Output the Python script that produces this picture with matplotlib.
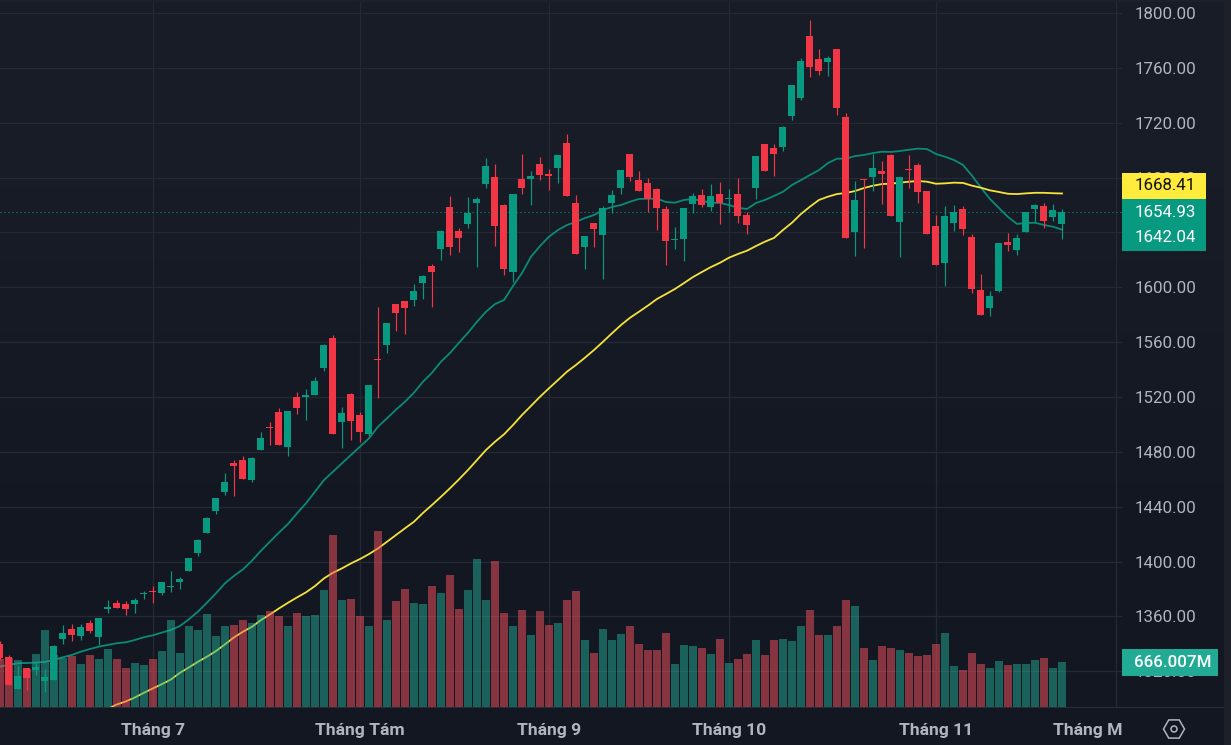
import matplotlib
matplotlib.use("Agg")
import matplotlib.pyplot as plt
import numpy as np
from matplotlib.patches import Rectangle, RegularPolygon, Circle
from matplotlib.transforms import Bbox, IdentityTransform

# daily candles, first visible bar = index 0
opens = [1340.0, 1330.5, 1307.2, 1322.5, 1321.0, 1313.0, 1313.7, 1343.6, 1350.9, 1345.8,
         1355.3, 1345.1, 1365.5, 1369.9, 1369.2, 1369.2, 1376.2, 1378.6, 1377.2, 1381.5,
         1385.2, 1393.2, 1406.3, 1420.9, 1436.9, 1450.8, 1471.9, 1474.1, 1459.5, 1481.4,
         1498.2, 1509.1, 1483.6, 1520.1, 1520.1, 1521.5, 1541.2, 1563.1, 1501.8, 1522.2,
         1506.9, 1493.1, 1547.8, 1558.0, 1587.8, 1590.0, 1590.8, 1603.2, 1615.6, 1628.0,
         1658.6, 1641.1, 1646.2, 1661.5, 1675.3, 1680.4, 1660.0, 1611.2, 1679.0, 1679.0,
         1689.9, 1682.6, 1687.0, 1705.2, 1661.5, 1629.4, 1646.9, 1638.2, 1661.5, 1672.4,
         1697.2, 1678.3, 1676.1, 1671.7, 1657.1, 1634.5, 1635.2, 1660.8, 1667.3, 1658.6,
         1668.1, 1664.4, 1668.1, 1652.7, 1672.4, 1704.5, 1701.6, 1702.3, 1724.9, 1738.0,
         1783.2, 1766.5, 1764.3, 1773.8, 1724.2, 1640.4, 1679.0, 1680.5, 1684.8, 1696.5,
         1647.7, 1686.3, 1689.2, 1670.2, 1644.7, 1617.8, 1646.9, 1657.1, 1636.7, 1598.1,
         1585.0, 1597.4, 1633.1, 1627.2, 1640.4, 1657.1, 1659.3, 1651.3, 1646.2]
highs = [1342.2, 1332.0, 1324.0, 1322.5, 1327.1, 1321.8, 1339.5, 1353.8, 1354.6, 1354.6,
         1357.5, 1358.9, 1372.1, 1372.1, 1371.3, 1373.5, 1378.6, 1382.3, 1385.2, 1393.2,
         1388.8, 1402.7, 1416.5, 1432.6, 1446.4, 1464.7, 1474.1, 1477.0, 1476.3, 1494.5,
         1501.8, 1512.0, 1509.9, 1523.7, 1525.9, 1534.6, 1558.7, 1565.3, 1512.8, 1523.0,
         1509.1, 1528.8, 1585.6, 1574.0, 1587.8, 1590.0, 1602.4, 1609.0, 1617.0, 1641.8,
         1666.6, 1643.3, 1665.9, 1665.9, 1694.3, 1689.9, 1660.8, 1668.1, 1697.2, 1684.8,
         1695.0, 1686.3, 1696.5, 1711.8, 1667.3, 1637.4, 1646.9, 1659.3, 1671.0, 1685.5,
         1697.2, 1684.8, 1679.7, 1672.4, 1659.3, 1644.0, 1657.8, 1668.8, 1671.7, 1675.3,
         1676.8, 1671.7, 1679.7, 1654.9, 1695.8, 1704.5, 1704.5, 1717.6, 1747.5, 1767.2,
         1794.9, 1773.8, 1768.7, 1773.8, 1727.1, 1677.5, 1679.0, 1697.2, 1692.1, 1697.2,
         1680.5, 1696.5, 1690.7, 1670.2, 1652.8, 1659.3, 1660.0, 1659.3, 1638.9, 1609.7,
         1597.4, 1632.3, 1639.6, 1638.9, 1654.9, 1660.8, 1661.5, 1660.8, 1657.1]
lows = [1328.3, 1310.1, 1307.2, 1306.5, 1317.4, 1305.0, 1313.7, 1340.0, 1342.2, 1342.9,
        1348.0, 1339.3, 1362.6, 1366.2, 1361.1, 1362.6, 1372.8, 1369.9, 1375.7, 1377.9,
        1380.1, 1393.2, 1404.1, 1420.9, 1434.8, 1448.6, 1447.9, 1460.3, 1458.1, 1481.4,
        1485.1, 1485.1, 1477.0, 1507.7, 1503.3, 1521.5, 1539.0, 1493.1, 1482.9, 1488.7,
        1487.3, 1491.6, 1519.3, 1552.1, 1568.1, 1566.0, 1586.4, 1591.5, 1585.7, 1620.0,
        1623.6, 1625.8, 1643.3, 1614.8, 1672.4, 1630.1, 1609.0, 1603.9, 1668.1, 1660.0,
        1678.3, 1671.0, 1676.1, 1666.6, 1624.3, 1613.4, 1629.4, 1606.1, 1654.2, 1668.1,
        1677.5, 1670.2, 1654.9, 1641.8, 1616.3, 1628.0, 1619.2, 1654.2, 1658.6, 1655.7,
        1646.2, 1654.9, 1646.9, 1638.9, 1664.4, 1684.8, 1681.2, 1699.4, 1722.0, 1736.6,
        1753.4, 1754.8, 1754.1, 1725.7, 1636.0, 1622.9, 1628.7, 1670.2, 1660.8, 1652.0,
        1622.1, 1672.4, 1661.5, 1638.9, 1616.3, 1601.0, 1641.1, 1638.2, 1595.9, 1579.9,
        1579.1, 1596.6, 1626.5, 1623.6, 1640.4, 1647.7, 1643.3, 1648.4, 1635.3]
closes = [1329.8, 1310.1, 1316.7, 1315.2, 1323.2, 1315.9, 1338.5, 1348.0, 1346.6, 1352.4,
          1349.5, 1358.9, 1367.0, 1366.2, 1365.5, 1372.1, 1376.9, 1377.9, 1385.2, 1382.3,
          1387.4, 1402.7, 1415.8, 1431.8, 1446.4, 1458.1, 1469.8, 1460.3, 1475.6, 1490.2,
          1497.5, 1485.1, 1509.9, 1512.0, 1521.5, 1531.7, 1558.0, 1493.1, 1508.4, 1502.6,
          1494.5, 1528.8, 1547.0, 1574.0, 1581.3, 1584.9, 1597.3, 1608.3, 1611.2, 1641.1,
          1629.4, 1636.0, 1654.2, 1664.4, 1688.5, 1644.7, 1613.4, 1668.1, 1672.4, 1681.2,
          1681.9, 1681.2, 1696.5, 1666.6, 1624.3, 1637.4, 1642.5, 1657.8, 1667.3, 1685.5,
          1680.4, 1670.2, 1664.4, 1657.8, 1633.8, 1635.2, 1657.8, 1666.6, 1660.0, 1666.6,
          1661.5, 1665.1, 1652.0, 1645.5, 1695.8, 1684.8, 1697.2, 1716.9, 1747.5, 1765.0,
          1760.6, 1757.7, 1767.2, 1730.8, 1636.0, 1663.7, 1678.3, 1687.0, 1682.6, 1652.0,
          1680.5, 1685.6, 1669.5, 1638.9, 1616.3, 1652.0, 1654.9, 1642.5, 1598.8, 1579.9,
          1593.7, 1632.3, 1630.9, 1636.0, 1654.9, 1660.0, 1648.4, 1656.4, 1654.93]
# volume in millions
volumes = [725, 735, 696, 572, 799, 1140, 770, 740, 755, 651, 770, 725, 873, 725, 592, 666,
           636, 725, 829, 1288, 814, 1199, 1154, 1391, 1051, 1199, 1228, 1302, 1258, 1376,
           1421, 1347, 1199, 1406, 1347, 1376, 1732, 2560, 1584, 1613, 1347, 1199, 2605, 1288,
           1569, 1761, 1554, 1539, 1805, 1702, 1954, 1465, 1746, 2205, 1598, 2161, 1406, 1199,
           1436, 1080, 1421, 1214, 1258, 1598, 1717, 992, 814, 1169, 992, 1095, 1199, 947,
           858, 858, 1110, 651, 932, 903, 888, 799, 1021, 666, 725, 799, 992, 784, 992, 1021,
           977, 1199, 1450, 1080, 1066, 1199, 1598, 1495, 888, 696, 903, 888, 858, 814, 755,
           770, 947, 1110, 607, 548, 814, 651, 592, 681, 622, 651, 651, 696, 740, 592, 666.007]
ma_short = [1323.5, 1324.7, 1325.9, 1326.1, 1326.4, 1326.9, 1328.3, 1330.3, 1332.0, 1334.4,
            1336.3, 1338.0, 1339.3, 1340.5, 1341.2, 1342.9, 1344.9, 1346.3, 1348.3, 1350.2,
            1353.1, 1358.0, 1363.6, 1370.1, 1376.9, 1384.2, 1389.6, 1394.4, 1400.7, 1408.0,
            1414.6, 1421.2, 1427.5, 1435.2, 1442.5, 1451.0, 1459.5, 1465.6, 1471.7, 1477.8,
            1483.8, 1489.9, 1498.4, 1504.5, 1510.8, 1516.6, 1523.2, 1531.2, 1537.7, 1545.8,
            1552.1, 1559.6, 1566.9, 1574.9, 1582.2, 1587.8, 1590.7, 1601.0, 1610.4, 1622.3,
            1630.1, 1636.9, 1641.8, 1645.4, 1647.8, 1650.5, 1652.7, 1656.4, 1658.6, 1660.0,
            1662.4, 1664.4, 1664.6, 1664.6, 1662.2, 1661.7, 1663.7, 1664.4, 1662.9, 1661.7,
            1661.5, 1660.0, 1658.0, 1657.1, 1661.5, 1663.7, 1666.6, 1669.7, 1674.6, 1678.2,
            1681.9, 1685.5, 1690.6, 1693.8, 1693.8, 1695.7, 1696.5, 1697.9, 1698.9, 1698.7,
            1699.4, 1700.3, 1701.1, 1700.8, 1697.2, 1695.2, 1692.8, 1689.2, 1681.4, 1672.6,
            1664.4, 1657.8, 1651.3, 1646.2, 1646.9, 1647.1, 1645.4, 1644.2, 1642.04]
# long average only comes into view at bar 12
ma_long_start = 12
ma_long = [1292.8, 1295.9, 1298.1, 1301.0, 1304.4, 1307.6, 1310.7, 1314.1, 1319.0, 1322.9,
           1327.0, 1330.7, 1334.8, 1339.7, 1344.8, 1348.9, 1352.5, 1357.4, 1361.5, 1365.9,
           1370.0, 1373.9, 1377.6, 1382.2, 1387.8, 1391.9, 1395.1, 1398.7, 1401.9, 1405.5,
           1409.6, 1414.5, 1419.4, 1424.3, 1429.1, 1435.5, 1441.3, 1447.3, 1453.5, 1460.0,
           1466.8, 1474.1, 1481.4, 1487.4, 1492.8, 1499.6, 1506.9, 1513.5, 1520.2, 1526.4,
           1532.4, 1538.5, 1543.4, 1548.7, 1554.3, 1560.3, 1566.5, 1572.5, 1577.8, 1582.2,
           1586.7, 1591.5, 1595.1, 1598.8, 1603.1, 1607.5, 1611.2, 1614.8, 1617.9, 1621.6,
           1624.3, 1626.7, 1630.1, 1633.3, 1636.0, 1641.8, 1647.1, 1653.5, 1658.8, 1663.7,
           1666.1, 1668.0, 1668.8, 1670.2, 1672.4, 1674.1, 1675.3, 1675.5, 1676.3, 1677.0,
           1677.5, 1677.0, 1675.5, 1675.8, 1676.3, 1676.1, 1674.1, 1672.6, 1670.7, 1669.5,
           1668.2, 1668.0, 1668.5, 1668.9, 1668.9, 1668.6, 1668.41]
month_pos = [17, 40, 61, 81, 104, 124]
month_names = ["Tháng 7", "Tháng Tám", "Tháng 9", "Tháng 10", "Tháng 11", "Tháng Mười Hai"]
price_ticks = np.arange(1320, 1801, 40)

UP = "#089981"
DOWN = "#f23645"
GRID = "#252933"
TXT = "#b2b5be"
FONT = "Roboto"
W, H = 1231, 745
PLOT_W, PLOT_BOTTOM = 1122, 707.5
BAR_PX = 9.0

plt.rcParams["font.family"] = FONT
fig = plt.figure(figsize=(W / 100, H / 100), dpi=100, facecolor="#131722")


def pane(zorder):
    a = fig.add_axes([0, (H - PLOT_BOTTOM) / H, PLOT_W / W, PLOT_BOTTOM / H], zorder=zorder)
    a.set_xlim(0, PLOT_W / BAR_PX)
    a.patch.set_alpha(0)
    for s in a.spines.values():
        s.set_visible(False)
    return a


# slight vertical gradient behind everything
bg = fig.add_axes([0, 0, 1, 1], zorder=-1)
bg.imshow(np.array([[24, 28, 39], [19, 23, 34]], dtype=np.uint8)[:, None, :],
          aspect="auto", interpolation="bilinear")
bg.axis("off")

ax = pane(1)   # grid and averages, sit under the volume
ax_vol = pane(2)
ax_c = pane(3)  # candles

x = np.arange(len(closes))
o, h, l, c = map(np.array, (opens, highs, lows, closes))
up = c >= o
colors = np.where(up, UP, DOWN)
vol_colors = np.where(up, "#22ab94", "#f7525f")

# 0.7291 price units per pixel
ylim = (1800 - (PLOT_BOTTOM - 13) * 0.7291, 1800 + 13 * 0.7291)
ax.set_ylim(*ylim)
ax_c.set_ylim(*ylim)
# 1640.00 sits fully behind the value tags, so it is not written
ax.set_yticks(price_ticks, ["" if p == 1640 else f"{p:.2f}" for p in price_ticks])
ax.yaxis.tick_right()
ax.tick_params(axis="y", length=0, pad=9.4, labelsize=12.2, labelcolor=TXT)
ax.set_xticks(month_pos, month_names)
ax.tick_params(axis="x", length=0, pad=11.5, labelsize=12.6, labelcolor=TXT)
for t in ax.get_xticklabels():
    t.set_fontweight("bold")
    # last label gets cut by the price scale
    t.set_clip_box(Bbox([[0, 0], [PLOT_W, H]]))
    t.set_clip_on(True)
ax.grid(True, color=GRID, lw=0.9)
ax.set_axisbelow(True)

ax.plot(x, ma_short, color="#0b8a78", lw=1.3, solid_capstyle="round")
ax.plot(np.arange(len(ma_long)) + ma_long_start, ma_long, color="#f5e33a", lw=1.3)

# volume, 14.8M per pixel
ax_vol.set_ylim(0, PLOT_BOTTOM * 14.8)
ax_vol.bar(x, volumes, width=8 / BAR_PX, color=vol_colors, alpha=0.5, linewidth=0)
ax_vol.axis("off")

ax_c.vlines(x, l, h, colors=colors, lw=0.85)
ax_c.bar(x, np.abs(c - o), bottom=np.minimum(o, c), width=7 / BAR_PX, color=colors, linewidth=0)
ax_c.axhline(closes[-1], color=UP, lw=0.72, linestyle=(0, (1, 3)))
ax_c.axis("off")

ident = IdentityTransform()


def px_rect(x0, y0, x1, y1, color, z=5):
    fig.add_artist(Rectangle((x0, H - y1), x1 - x0, y1 - y0, transform=ident,
                             facecolor=color, edgecolor="none", zorder=z))


def px_text(px, py, s, color, size=12.2, **kw):
    fig.text(px, H - py, s, transform=ident, color=color, fontsize=size,
             va="center", ha="left", zorder=6, **kw)


# frame bits around the panes
px_rect(0, 707, 1224, 708.3, "#2a2e39", z=4)
px_rect(1224, 0, W, H, "#1e2029", z=4)
px_rect(0, 0, W, 2, "#1e2029", z=4)

# value tags on the price scale
px_rect(1122, 173, 1206, 199, "#ffeb3b")
px_rect(1122, 199, 1206, 251, UP)
px_rect(1122, 649, 1218, 676, "#22ab94")
px_text(1135, 186, f"{ma_long[-1]:.2f}", "#111111")
px_text(1135, 212.5, f"{closes[-1]:.2f}", "white")
px_text(1135, 238, f"{ma_short[-1]:.2f}", "white")
px_text(1134, 662.5, f"{volumes[-1]:.3f}M", "white", weight="medium")

# settings icon
fig.add_artist(RegularPolygon((1174, H - 729), 6, radius=10.5, orientation=np.pi / 6, transform=ident,
                              facecolor="none", edgecolor=TXT, lw=1.1, zorder=6))
fig.add_artist(Circle((1174, H - 729), 3, transform=ident, facecolor="none",
                      edgecolor=TXT, lw=1.1, zorder=6))

fig.savefig("out.png", dpi=100)
